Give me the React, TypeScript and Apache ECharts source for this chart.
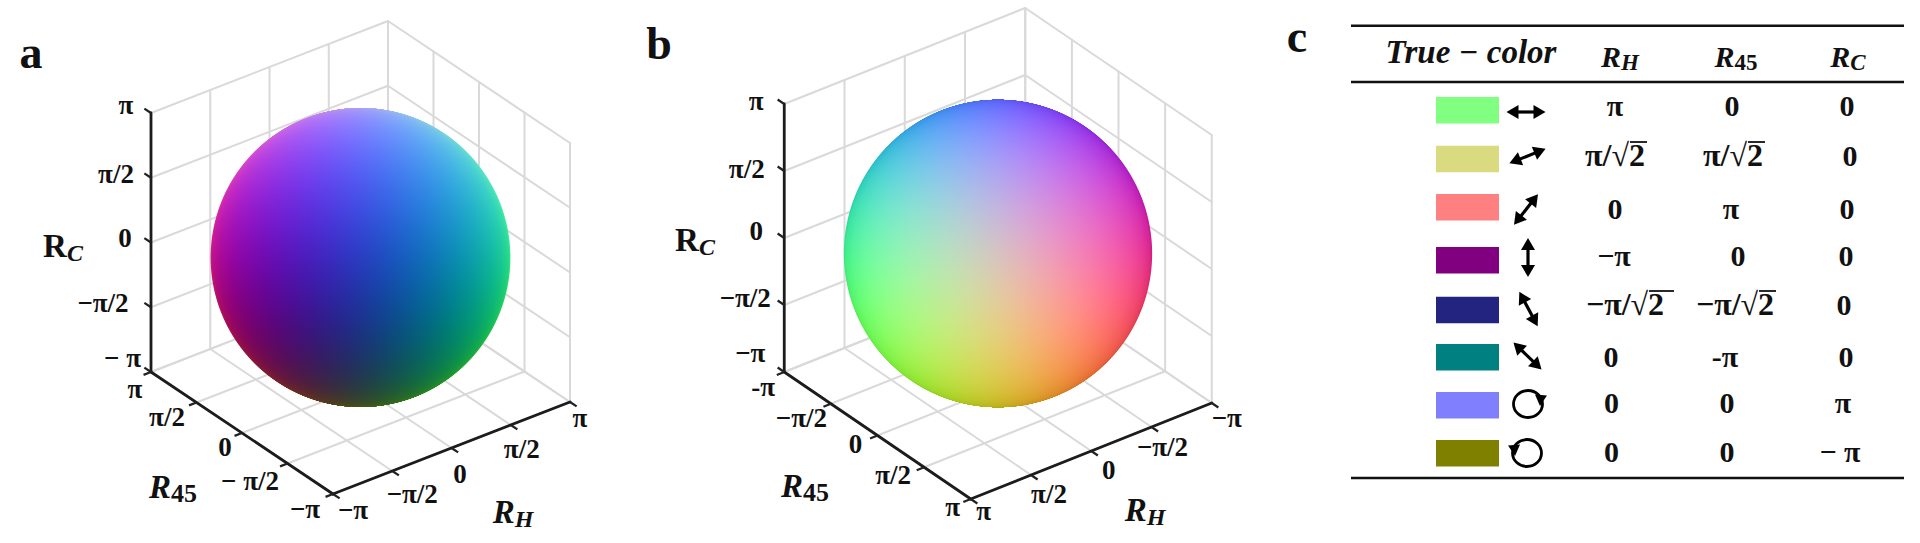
import React, { useEffect, useRef } from "react";
import * as echarts from "echarts";

const PI = Math.PI;
const FONT = '"Liberation Serif", serif';

// ---- axis data ----
const tickValues = [-PI, -PI / 2, 0, PI / 2, PI];
const tickTextA = ["−π", "−π/2", "0", "π/2", "π"];
const tickText45A = ["−π", "− π/2", "0", "π/2", "π"];
const tickTextZA = ["− π", "−π/2", "0", "π/2", "π"];
const tickTextB = ["−π", "−π/2", "0", "π/2", "π"];
const tickText45B = ["-π", "−π/2", "0", "π/2", "π"];

// ---- table data (panel c) ----
const tableHeaders = ["True − color", "R|H", "R|45", "R|C"];
const swatchColors = ["#80FF80", "#DADA80", "#FF8080", "#800080", "#232380", "#008080", "#8080FF", "#808000"];
const colRH = ["π", "π/√2", "0", "−π", "−π/√2", "0", "0", "0"];
const colR45 = ["0", "π/√2", "π", "0", "−π/√2", "-π", "0", "0"];
const colRC = ["0", "0", "0", "0", "0", "0", "π", "− π"];
const arrowAngles = [0, 22, 52, 90, 118, 136];

// ---- layout ----
const panels = [
  {
    center: [360.5, 257.5], // projected centre of the axis box
    h: [237, -92], a: [-182, -122], z: [0, -259], // screen span of a full 2π along each axis
    wallA: PI, wallH: PI,
    nudgeH: [[20, 16], [20, 23], [8.5, 26], [11, 24], [10, 16]],
    nudgeA: [[-28, 15], [-37.5, 17.5], [-17, 14], [-29.5, 14.5], [-16, 17]],
    nudgeZ: [[-28.5, -14], [-48, -4], [-26, -4.5], [-35, -3.75], [-25, -8]],
    textH: tickTextA, textA: tickText45A, textZ: tickTextZA,
    letter: ["a", 31, 52],
    labelC: [63, 246], labelA: [173, 487], labelH: [513, 512],
  },
  {
    center: [998, 253.5],
    h: [-241, 96], a: [186.5, 127], z: [0, -268],
    wallA: -PI, wallH: -PI,
    nudgeH: [[15, 15], [11, 20], [17.5, 19], [18, 19], [13, 12]],
    nudgeA: [[-21, 15], [-29.5, 14], [-22, 8], [-31, 8], [-18, 8]],
    nudgeZ: [[-34, -19], [-39, -7.4], [-28, -7], [-37.5, -2.5], [-28, -3]],
    textH: tickTextB, textA: tickText45B, textZ: tickTextB,
    letter: ["b", 659, 43],
    labelC: [695, 240], labelA: [805, 486], labelH: [1145, 510],
  },
];

const project = (p: any, h: number, a: number, c: number) => [
  p.center[0] + (h * p.h[0] + a * p.a[0] + c * p.z[0]) / (2 * PI),
  p.center[1] + (h * p.h[1] + a * p.a[1] + c * p.z[1]) / (2 * PI),
];

// Grid lines on the two walls and the floor, at the tick values.
function gridSegments(p: any) {
  const segs: number[][] = [];
  for (const t of tickValues) {
    segs.push([t, -PI, -PI, t, PI, -PI], [-PI, t, -PI, PI, t, -PI]);
    segs.push([t, p.wallA, -PI, t, p.wallA, PI], [-PI, p.wallA, t, PI, p.wallA, t]);
    segs.push([p.wallH, t, -PI, p.wallH, t, PI], [p.wallH, -PI, t, p.wallH, PI, t]);
  }
  return segs;
}

function axisSegments(p: any) {
  const fA = -p.wallA, fH = -p.wallH; // front corner
  const len = 8;
  const unit = (v: number[]) => { const n = Math.hypot(v[0], v[1]); return [v[0] / n, v[1] / n]; };
  const sgnH = Math.sign(p.wallH), sgnA = Math.sign(p.wallA);
  const segs: number[][] = [];
  segs.push([fH, fA, -PI, p.wallH, fA, -PI], [fH, fA, -PI, fH, p.wallA, -PI], [fH, p.wallA, -PI, fH, p.wallA, PI]);
  const tickOf = (v: number[]) => [v[0] * len, v[1] * len];
  const hOut = tickOf(unit([p.a[0] * -sgnA, p.a[1] * -sgnA]));
  const aOut = tickOf(unit([p.h[0] * -sgnH, p.h[1] * -sgnH]));
  const zOut = tickOf(unit([p.a[0] * sgnA, p.a[1] * sgnA]));
  const ticks: number[][] = [];
  for (const t of tickValues) {
    ticks.push([t, fA, -PI, hOut[0], hOut[1]]);
    ticks.push([fH, t, -PI, aOut[0], aOut[1]]);
    ticks.push([fH, p.wallA, t, zOut[0], zOut[1]]);
  }
  return { segs, ticks };
}

// Basis of the orthographic view, recovered from the axis spans.
function viewBasis(p: any) {
  const ex = [p.h[0], p.a[0], p.z[0]];
  const ey = [-p.h[1], -p.a[1], -p.z[1]];
  const norm = (v: number[]) => { const n = Math.hypot(...v); return v.map((q) => q / n); };
  const e1 = norm(ex);
  const dot = ey[0] * e1[0] + ey[1] * e1[1] + ey[2] * e1[2];
  const e2 = norm(ey.map((q, i) => q - dot * e1[i]));
  const d = [e1[1] * e2[2] - e1[2] * e2[1], e1[2] * e2[0] - e1[0] * e2[2], e1[0] * e2[1] - e1[1] * e2[0]];
  return { e1, e2, d };
}

// True colour as listed in the table of panel c: R follows R45, G follows RH, B follows RC.
const trueColor = (h: number, a: number, c: number) => {
  const ch = (v: number) => Math.round(128 + 127 * v);
  return `rgb(${ch(a)},${ch(h)},${ch(c)})`;
};

const sphereRadius = (p: any) => {
  const s = p.h[0] ** 2 + p.h[1] ** 2 + p.a[0] ** 2 + p.a[1] ** 2 + p.z[0] ** 2 + p.z[1] ** 2;
  return Math.sqrt(s / 2) / 2;
};

function sphereSeries(p: any) {
  const r = sphereRadius(p);
  const { e1, e2, d } = viewBasis(p);
  const cy = p.center[1];
  const top = Math.floor(cy - r), bottom = Math.ceil(cy + r);
  const rows: number[][] = [];
  for (let y = top; y < bottom; y++) rows.push([y]);
  return {
    type: "custom",
    coordinateSystem: "cartesian2d",
    silent: true,
    clip: false,
    data: rows,
    renderItem: (_: any, api: any) => {
      const y = api.value(0);
      const Y = (cy - (y + 0.5)) / r;
      const u2 = 1 - Y * Y;
      if (u2 <= 0) return null;
      const u = Math.sqrt(u2);
      const stops: any[] = [];
      const N = 18;
      for (let i = 0; i <= N; i++) {
        const th = -PI / 2 + (PI * i) / N;
        const X = u * Math.sin(th), D = u * Math.cos(th);
        const q = [0, 1, 2].map((k) => X * e1[k] + Y * e2[k] + D * d[k]);
        stops.push({ offset: (1 + Math.sin(th)) / 2, color: trueColor(q[0], q[1], q[2]) });
      }
      const a = api.coord([p.center[0] - u * r, y]);
      const b = api.coord([p.center[0] + u * r, y + 1]);
      return {
        type: "rect",
        shape: { x: a[0], y: a[1], width: b[0] - a[0], height: b[1] - a[1] },
        style: { fill: new echarts.graphic.LinearGradient(0, 0, 1, 0, stops) },
      };
    },
  };
}

const lineSeries = (p: any, segs: number[][], stroke: string, width: number) => ({
  type: "custom",
  coordinateSystem: "cartesian2d",
  silent: true,
  clip: false,
  data: segs,
  renderItem: (_: any, api: any) => {
    const v = [0, 1, 2, 3, 4, 5].map((i) => api.value(i));
    const a = api.coord(project(p, v[0], v[1], v[2]));
    const b = api.coord(project(p, v[3], v[4], v[5]));
    return {
      type: "line",
      shape: { x1: a[0], y1: a[1], x2: b[0], y2: b[1] },
      style: { stroke, lineWidth: width, lineCap: "round" },
    };
  },
});

const tickSeries = (p: any, ticks: number[][]) => ({
  type: "custom",
  coordinateSystem: "cartesian2d",
  silent: true,
  clip: false,
  data: ticks,
  renderItem: (_: any, api: any) => {
    const v = [0, 1, 2, 3, 4].map((i) => api.value(i));
    const a = api.coord(project(p, v[0], v[1], v[2]));
    return {
      type: "line",
      shape: { x1: a[0], y1: a[1], x2: a[0] + v[3], y2: a[1] + v[4] },
      style: { stroke: "#222", lineWidth: 2.2 },
    };
  },
});

const txt = (text: string, x: number, y: number, size: number, extra: any = {}) => ({
  type: "text",
  x,
  y,
  style: {
    text,
    fill: "#111",
    font: `${extra.italic ? "italic " : ""}bold ${size}px ${FONT}`,
    align: extra.align || "center",
    verticalAlign: "middle",
    textAlign: extra.align || "center",
    textVerticalAlign: "middle",
  },
});

const subText = (main: string, sub: string, x: number, y: number, size: number, subSize: number, upright = false) => ({
  type: "text",
  x,
  y,
  style: {
    text: `{m|${main}}{s|${sub}}`,
    align: "center",
    verticalAlign: "middle",
    textAlign: "center",
    textVerticalAlign: "middle",
    rich: {
      m: { font: `${upright ? "" : "italic "}bold ${size}px ${FONT}`, fill: "#111" },
      s: { font: `${sub === "45" ? "" : "italic "}bold ${subSize}px ${FONT}`, fill: "#111", verticalAlign: "bottom", padding: [size * 0.42, 0, 0, 0] },
    },
  },
});

function panelGraphics(p: any) {
  const els: any[] = [];
  tickValues.forEach((t, i) => {
    const fA = -p.wallA, fH = -p.wallH;
    const ph = project(p, t, fA, -PI);
    const pa = project(p, fH, t, -PI);
    const pz = project(p, fH, p.wallA, t);
    els.push(txt(p.textH[i], ph[0] + p.nudgeH[i][0], ph[1] + p.nudgeH[i][1], 27));
    els.push(txt(p.textA[i], pa[0] + p.nudgeA[i][0], pa[1] + p.nudgeA[i][1], 27));
    els.push(txt(p.textZ[i], pz[0] + p.nudgeZ[i][0], pz[1] + p.nudgeZ[i][1], 27));
  });
  els.push(txt(p.letter[0], p.letter[1], p.letter[2], 46));
  els.push(subText("R", "C", p.labelC[0], p.labelC[1], 33, 24, true));
  els.push(subText("R", "45", p.labelA[0], p.labelA[1], 33, 26));
  els.push(subText("R", "H", p.labelH[0], p.labelH[1], 33, 24));
  return els;
}

// ---- table layout ----
const ruleX = [1351, 1904];
const ruleY = [25.7, 82, 478];
const swatchY = [97, 145.7, 194, 247, 296.7, 344, 392, 440];
const swatchX = 1436, swatchW = 63, swatchH = 26.5;
const rowY = [105, 155, 208, 255, 304, 356, 402, 451];
const colXRH = [1615, 1615, 1615, 1614, 1625, 1611, 1611.6, 1611.6];
const colXR45 = [1732, 1733, 1731, 1738, 1735, 1725, 1727, 1727];
const colXRC = [1847, 1850, 1847, 1846, 1844, 1846, 1843, 1840];
const arrowCenters = [[1526, 112], [1527.5, 156], [1526, 209.5], [1528, 257.5], [1528.5, 309], [1527.5, 356]];
const circleCenters = [[1528, 404], [1527, 453]];
const circleHeads = [[1540, 406, -95], [1515, 456, -85]];
const overlines = [
  [1630, 1647, 142], [1748, 1765, 142], [1649, 1674, 291], [1759, 1776, 291],
];

function arrowHead(x: number, y: number, ang: number, L = 12, W = 7) {
  const cs = Math.cos(ang), sn = Math.sin(ang);
  return {
    type: "polygon",
    shape: {
      points: [
        [x, y],
        [x - L * cs - W * sn, y + L * sn - W * cs],
        [x - L * cs + W * sn, y + L * sn + W * cs],
      ],
    },
    style: { fill: "#000" },
  };
}

function tableGraphics() {
  const els: any[] = [];
  ruleY.forEach((y) => els.push({ type: "line", shape: { x1: ruleX[0], y1: y, x2: ruleX[1], y2: y }, style: { stroke: "#111", lineWidth: 2.4 } }));
  els.push(txt("c", 1297, 36, 46));
  els.push(txt(tableHeaders[0], 1471, 52, 33, { italic: true }));
  const hx = [1620, 1736, 1848];
  tableHeaders.slice(1).forEach((h, i) => {
    const [m, s] = h.split("|");
    els.push(subText(m, s, hx[i], 56, 30, 23));
  });
  swatchColors.forEach((c, i) => {
    els.push({ type: "rect", shape: { x: swatchX, y: swatchY[i], width: swatchW, height: swatchH }, style: { fill: c } });
    const size = (s: string) => (s.includes("√") ? 32 : 30);
    els.push(txt(colRH[i], colXRH[i], rowY[i], size(colRH[i])));
    els.push(txt(colR45[i], colXR45[i], rowY[i], size(colR45[i])));
    els.push(txt(colRC[i], colXRC[i], rowY[i], size(colRC[i])));
  });
  arrowAngles.forEach((deg, i) => {
    const ang = (deg * PI) / 180;
    const [cx, cy] = arrowCenters[i];
    const half = 19.5;
    const dx = half * Math.cos(ang), dy = -half * Math.sin(ang);
    els.push({ type: "line", shape: { x1: cx - dx * 0.6, y1: cy - dy * 0.6, x2: cx + dx * 0.6, y2: cy + dy * 0.6 }, style: { stroke: "#000", lineWidth: 3.2 } });
    els.push(arrowHead(cx + dx, cy + dy, ang));
    els.push(arrowHead(cx - dx, cy - dy, ang + PI));
  });
  circleCenters.forEach(([cx, cy], i) => {
    els.push({ type: "ellipse", shape: { cx, cy, rx: 14.5, ry: 13.5 }, style: { fill: "none", stroke: "#000", lineWidth: 2.8 } });
    const [hx2, hy, deg] = circleHeads[i];
    els.push(arrowHead(hx2, hy, (deg * PI) / 180, 11, 6));
  });
  overlines.forEach(([a, b, y]) => els.push({ type: "line", shape: { x1: a, y1: y, x2: b, y2: y }, style: { stroke: "#111", lineWidth: 1.8 } }));
  return els;
}

export default function App() {
  const ref = useRef<HTMLDivElement>(null);
  useEffect(() => {
    document.body.style.margin = "0";
    const chart = echarts.init(ref.current!, undefined, { renderer: "svg" });
    const series: any[] = [];
    panels.forEach((p) => series.push(lineSeries(p, gridSegments(p), "#d9d9d9", 2)));
    panels.forEach((p) => series.push(sphereSeries(p)));
    panels.forEach((p) => {
      const { segs, ticks } = axisSegments(p);
      series.push(lineSeries(p, segs, "#1c1c1c", 2.8));
      series.push(tickSeries(p, ticks));
    });
    chart.setOption({
      animation: false,
      backgroundColor: "#fff",
      grid: { left: 0, right: 0, top: 0, bottom: 0 },
      xAxis: { type: "value", min: 0, max: 1920, show: false },
      yAxis: { type: "value", min: 0, max: 543, inverse: true, show: false },
      series,
      graphic: { elements: [...panels.flatMap(panelGraphics), ...tableGraphics()] },
    });
    return () => chart.dispose();
  }, []);
  return <div ref={ref} style={{ width: 1920, height: 543, overflow: "hidden" }} />;
}
